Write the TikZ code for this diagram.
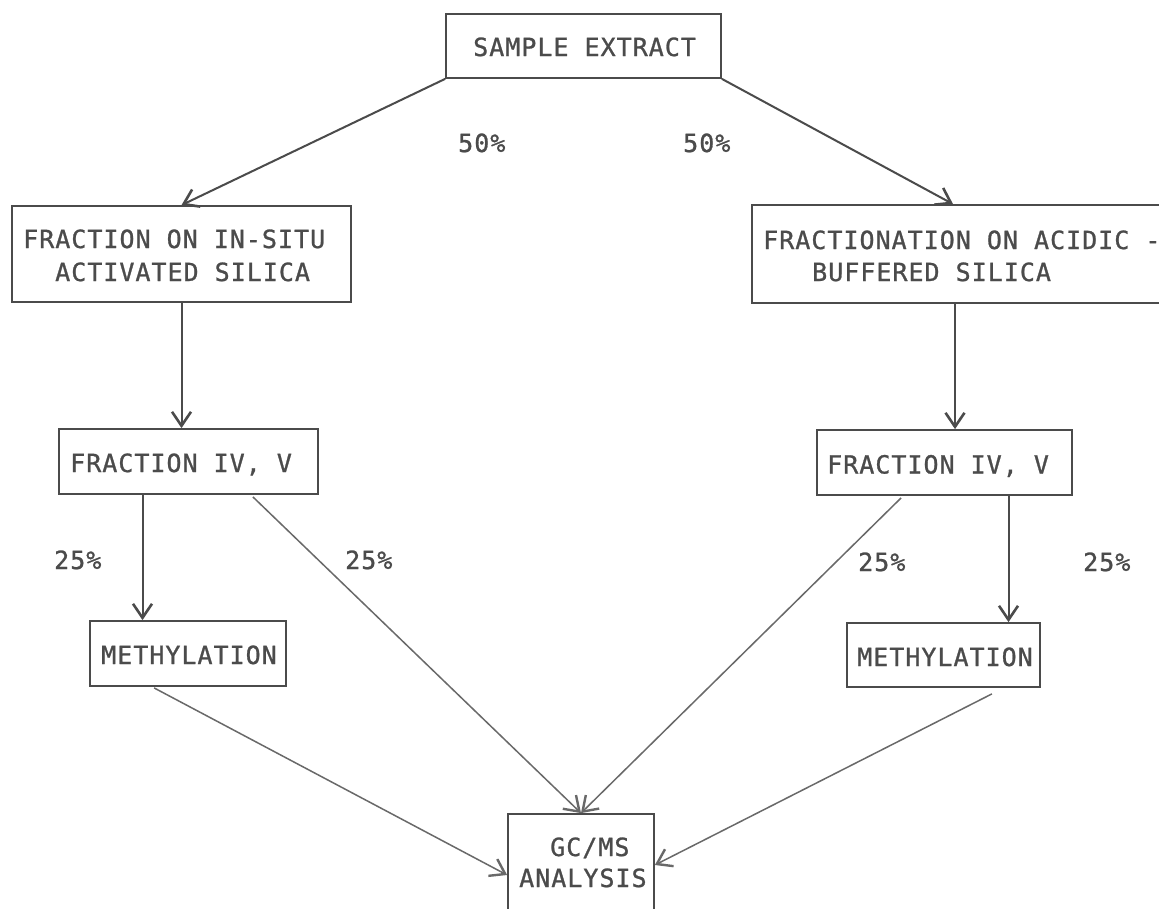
\documentclass[tikz,border=0pt]{standalone}
\usepackage{fontspec}
\newfontfamily\plotfont[LetterSpace=4,FakeBold=1]{DejaVu Sans Mono}
\usetikzlibrary{arrows.meta}
\definecolor{ink}{RGB}{75,75,75}
\definecolor{inklight}{RGB}{105,105,105}
\begin{document}
\begin{tikzpicture}[x=1pt,y=-1pt,
  box/.style={draw=ink,line width=1.8pt,rectangle,inner sep=0pt},
  txt/.style={anchor=base west,inner sep=0pt,text=ink,font=\plotfont\fontsize{25}{25}\selectfont},
  arr/.style={draw=ink,line width=2pt,-{Straight Barb[length=14pt,width=19pt,line width=2.6pt]}},
  arrlight/.style={draw=inklight,line width=1.5pt,-{Straight Barb[length=14pt,width=19pt,line width=2.4pt]}}
]
\fill[white] (0,0) rectangle (1159,908);
\useasboundingbox (0,0) rectangle (1159,908);

% boxes
\node[box,minimum width=275,minimum height=64] (sample) at (583.5,46) {};
\node[box,minimum width=339,minimum height=96] (insitu) at (181.5,254) {};
\node[box,minimum width=414,minimum height=98] (acidic) at (959,254) {};
\node[box,minimum width=259,minimum height=65] (fracL) at (188.5,461.5) {};
\node[box,minimum width=255,minimum height=65] (fracR) at (944.5,462.5) {};
\node[box,minimum width=196,minimum height=65] (methL) at (188,653.5) {};
\node[box,minimum width=193,minimum height=64] (methR) at (943.5,655) {};
\node[box,minimum width=146,minimum height=130] (gcms) at (581,879) {};

% texts
\node[txt] (tsample) at (473,56) {SAMPLE EXTRACT};
\node[txt] (tinsitu1) at (23,248) {FRACTION ON IN-SITU};
\node[txt] (tinsitu2) at (55,281) {ACTIVATED SILICA};
\node[txt] (tacidic1) at (763,249) {FRACTIONATION ON ACIDIC -};
\node[txt] (tacidic2) at (812,281) {BUFFERED SILICA};
\node[txt] (tfracL) at (70,472) {FRACTION IV, V};
\node[txt] (tfracR) at (827,473.5) {FRACTION IV, V};
\node[txt] (tmethL) at (101,664) {METHYLATION};
\node[txt] (tmethR) at (857,666) {METHYLATION};
\node[txt] (tgc1) at (550,856) {GC/MS};
\node[txt] (tgc2) at (519,887) {ANALYSIS};

% labels
\node[txt] (l50a) at (458,152) {50\%};
\node[txt] (l50b) at (683,152) {50\%};
\node[txt] (l25a) at (54,569) {25\%};
\node[txt] (l25b) at (345,569) {25\%};
\node[txt] (l25c) at (858,571) {25\%};
\node[txt] (l25d) at (1083,571) {25\%};

% connectors
\draw[arr] (sample.south west) -- (insitu.north);
\draw[arr] (sample.south east) -- ([xshift=-6pt]acidic.north);
\draw[arr] (insitu.south) -- (insitu.south |- fracL.north);
\draw[arr] ([xshift=-4pt]acidic.south) -- ([xshift=-4pt]acidic.south |- fracR.north);
\draw[arr] ([xshift=-46pt]fracL.south) -- ([xshift=-46pt]fracL.south |- methL.north);
\draw[arr] ([xshift=64pt]fracR.south) -- ([xshift=64pt]fracR.south |- methR.north);
\draw[arrlight] ([xshift=-66pt,yshift=-2pt]fracL.south east) -- (gcms.north);
\draw[arrlight] ([xshift=85pt,yshift=-2pt]fracR.south west) -- (gcms.north);
\draw[arrlight] ([xshift=65pt,yshift=-1pt]methL.south west) -- ([yshift=4pt]gcms.west);
\draw[arrlight] ([xshift=-49pt,yshift=-6pt]methR.south east) -- ([yshift=14pt]gcms.east);
\end{tikzpicture}
\end{document}
